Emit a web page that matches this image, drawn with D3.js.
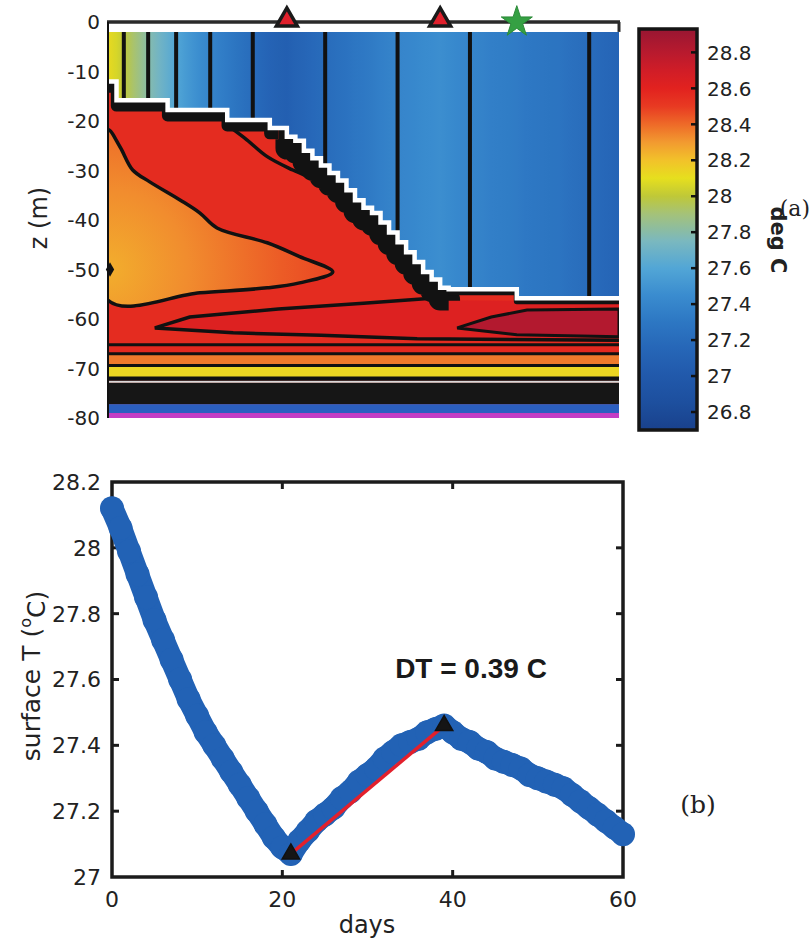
<!DOCTYPE html>
<html><head><meta charset="utf-8">
<script src="https://cdn.jsdelivr.net/npm/d3@7"></script>
<style>body{margin:0;background:#fff}</style>
</head><body><svg id="c" width="811" height="941"></svg>
<script>
// ---------------- DATA ----------------
const days = d3.range(0, 61);
const sst = [28.12,28.06,27.99,27.92,27.85,27.78,27.72,27.66,27.60,27.54,
             27.49,27.44,27.40,27.36,27.32,27.28,27.24,27.20,27.16,27.12,
             27.09,27.07,27.11,27.14,27.17,27.19,27.21,27.24,27.26,27.29,
             27.31,27.33,27.36,27.38,27.40,27.41,27.42,27.44,27.45,27.46,
             27.44,27.42,27.41,27.39,27.38,27.36,27.35,27.34,27.33,27.31,
             27.30,27.29,27.28,27.27,27.25,27.23,27.21,27.19,27.17,27.15,27.13];
const mld = [-12,-15.8,-15.8,-15.8,-15.8,-15.8,-15.8,-17.8,-17.8,-17.8,
             -17.8,-17.8,-17.8,-17.8,-19.8,-19.8,-19.8,-19.8,-19.8,-21.4,
             -21.4,-23.2,-24,-26,-27.5,-29,-30.5,-32,-34,-36,
             -37.5,-38.6,-40.5,-42.5,-44.5,-46.5,-48.5,-50.5,-52,-53.7,
             -54,-54,-54,-54,-54,-54,-54,-54,-55.8,-55.8,
             -55.8,-55.8,-55.8,-55.8,-55.8,-55.8,-55.8,-55.8,-55.8,-55.8,-55.8];
const zTicks = [0,-10,-20,-30,-40,-50,-60,-70,-80];
const cbTicks = [26.8,27,27.2,27.4,27.6,27.8,28,28.2,28.4,28.6,28.8];
const tTicks = [27,27.2,27.4,27.6,27.8,28,28.2];
const dayTicks = [0,20,40,60];
const mlContourLevels = [28.0,27.8,27.6,27.4,27.2];
const dtDays = [21,39];
const dtTemps = [27.07,27.46];
const starDay = 48;
const markDepth = -50;
// subsurface contour geometry in (day, z)
const wedge = [[0,-21.8],[1.4,-25.2],[2.9,-29.9],[4.9,-32.3],[8.5,-36],[10.8,-38.6],[12.8,-41.6],
               [18.7,-44.6],[22.5,-47.4],[26.4,-50.5],[22.5,-52.7],[18.7,-53.7],[10.8,-54.7],[0,-56.2]];
const contourB = [[14.3,-21.2],[16.3,-23.8],[18.7,-27.2],[21.7,-29.9],[25.7,-32.9],[28,-35.3]];
const zContour = [[38,-55.8],[30,-56.8],[20,-58.0],[9.6,-59.6],[5.5,-61.8],[14.7,-62.8],[25,-63.3],[36.3,-64.0],[60,-64.3]];
const darkWedge = [[41,-61.8],[45,-59.6],[49.2,-58.2],[60,-58.0],[60,-63.6],[48,-63.2]];
const bandTop = [-65.2,-67.0,-69.4,-71.9,-72.5,-72.9,-77.2,-79.0];
const bandBot = [-67.0,-69.4,-71.9,-72.5,-72.9,-77.2,-79.0,-80];
const bandColor = ["#e3291f","#ef7a2b","#ecd622","#141414","#d8d8d8","#161616","#2b5fc0","#c33ec6"];
const bandLines = [-65.2,-67.0,-69.4,-71.9];
// thickness (m) of the sharp thermocline layer under the mixed layer, by period
const gradStart = [0,20,40];
const gradEnd = [20,40,60];
const gradThick = [2.3,4.6,1.2];
// colormap
const cmapT = [26.70,26.85,27.00,27.15,27.30,27.45,27.60,27.75,27.90,28.00,28.10,28.20,28.30,28.40,28.50,28.60,28.70,28.80,28.93];
const cmapC = ["#19418c","#1d4f9e","#2159ab","#2666b7","#2d77c3","#3a8ccf","#52a6d6","#7ab8bf","#a4c27a","#bfc838","#e6df1e","#f2c22a","#f29a30","#ee6a28","#e83a22","#e2221f","#d01d27","#b81a2e","#981632"];

// ---------------- SETUP ----------------
const svg = d3.select("#c");
const defs = svg.append("defs");
const SANS = "'DejaVu Sans', 'Liberation Sans', sans-serif";
const SERIF = "'DejaVu Serif', 'Liberation Serif', serif";
const cmap = d3.scaleLinear().domain(cmapT).range(cmapC).clamp(true);

const xTop = d3.scaleLinear([0,60],[108,619]);
const zS = d3.scaleLinear([0,-80],[22,418]);
const cbS = d3.scaleLinear([26.7,28.93],[430,29]);
const xB = d3.scaleLinear([0,60],[112,623]);
const yB = d3.scaleLinear([27,28.2],[877,482]);

const ml = days.map((d,i)=>({day:d, z:mld[i], T:sst[i]}));

// ---------------- TOP PANEL ----------------
defs.append("clipPath").attr("id","clipTop").append("rect")
  .attr("x",xTop(0)).attr("y",zS(-2)).attr("width",xTop(60)-xTop(0)).attr("height",zS(-80)-zS(-2));
const gT = svg.append("g").attr("clip-path","url(#clipTop)");

// subsurface background
gT.append("rect").attr("x",xTop(0)).attr("y",zS(-2)).attr("width",xTop(60)-xTop(0))
  .attr("height",zS(-80)-zS(-2)).attr("fill",cmap(28.56));

const lineXZ = d3.line().x(d=>xTop(d[0])).y(d=>zS(d[1]));

// Z interior (slightly warmer)
const zPoly = zContour.concat([[60,-56.5],[40,-56.2]]);
gT.append("path").attr("d",lineXZ.curve(d3.curveLinearClosed)(zPoly)).attr("fill",cmap(28.63));
// dark wedge
gT.append("path").attr("d",lineXZ.curve(d3.curveLinearClosed)(darkWedge)).attr("fill",cmap(28.82))
  .attr("stroke","#111").attr("stroke-width",3);

// orange wedge with radial gradient
const rg = defs.append("radialGradient").attr("id","wedgeG").attr("gradientUnits","userSpaceOnUse")
  .attr("cx",xTop(0)).attr("cy",zS(-50)).attr("r",230);
rg.append("stop").attr("offset","0%").attr("stop-color",cmap(28.25));
rg.append("stop").attr("offset","35%").attr("stop-color",cmap(28.33));
rg.append("stop").attr("offset","75%").attr("stop-color",cmap(28.43));
rg.append("stop").attr("offset","100%").attr("stop-color",cmap(28.48));
gT.append("path").attr("d",lineXZ.curve(d3.curveCatmullRomClosed)(wedge)).attr("fill","url(#wedgeG)")
  .attr("stroke","#111").attr("stroke-width",3.5);

// Z contour line and contour B
gT.append("path").attr("d",lineXZ.curve(d3.curveLinear)(zContour)).attr("fill","none").attr("stroke","#111").attr("stroke-width",3.5);
gT.append("path").attr("d",lineXZ.curve(d3.curveCatmullRom)(contourB)).attr("fill","none").attr("stroke","#111").attr("stroke-width",3.5);

// deep horizontal bands
gT.selectAll("rect.band").data(bandTop).join("rect").attr("class","band")
  .attr("x",xTop(0)).attr("width",xTop(60)-xTop(0))
  .attr("y",d=>zS(d)).attr("height",(d,i)=>zS(bandBot[i])-zS(d))
  .attr("fill",(d,i)=>bandColor[i]);
gT.selectAll("line.bl").data(bandLines).join("line").attr("class","bl")
  .attr("x1",xTop(0)).attr("x2",xTop(60)).attr("y1",d=>zS(d)).attr("y2",d=>zS(d))
  .attr("stroke","#111").attr("stroke-width",3);

// sharp thermocline layer under mixed layer (dense contours) - stroked staircase
gradStart.forEach((s,k)=>{
  const seg = ml.filter(d=>d.day>=s && d.day<=gradEnd[k]);
  const t = gradThick[k];
  gT.append("path").datum(seg)
    .attr("d",d3.line().curve(d3.curveStepAfter).x(d=>xTop(d.day)).y(d=>zS(d.z - t/2)))
    .attr("fill","none").attr("stroke","#121212")
    .attr("stroke-width",zS(-t)-zS(0)).attr("stroke-linejoin","round");
});

// mixed layer coloured by surface temperature
const mlg = defs.append("linearGradient").attr("id","mlG").attr("gradientUnits","userSpaceOnUse")
  .attr("x1",xTop(0)).attr("x2",xTop(60)).attr("y1",0).attr("y2",0);
ml.forEach(d=>mlg.append("stop").attr("offset",d.day/60).attr("stop-color",cmap(d.T)));
gT.append("path").datum(ml)
  .attr("d",d3.area().curve(d3.curveStepAfter).x(d=>xTop(d.day)).y0(zS(-2)).y1(d=>zS(d.z)))
  .attr("fill","url(#mlG)");

// vertical contour lines inside mixed layer
const crossings = [];
mlContourLevels.forEach(L=>{
  for(let i=0;i<sst.length-1;i++){
    const a=sst[i], b=sst[i+1];
    if((a-L)*(b-L)<0 || a===L){
      const f=(L-a)/(b-a);
      crossings.push({day:days[i]+f, z:mld[i]});
    }
  }
});
gT.selectAll("line.mlc").data(crossings).join("line").attr("class","mlc")
  .attr("x1",d=>xTop(d.day)).attr("x2",d=>xTop(d.day))
  .attr("y1",zS(-2)).attr("y2",d=>zS(d.z)+2)
  .attr("stroke","#111").attr("stroke-width",4);

// white mixed-layer base line
gT.append("path").datum(ml)
  .attr("d",d3.line().curve(d3.curveStepAfter).x(d=>xTop(d.day)).y(d=>zS(d.z)))
  .attr("fill","none").attr("stroke","#fff").attr("stroke-width",4.5);

// frame of top panel
svg.append("line").attr("x1",xTop(0)-1).attr("x2",xTop(60)+1).attr("y1",zS(0)).attr("y2",zS(0))
  .attr("stroke","#2a2a2a").attr("stroke-width",3.5);
svg.append("line").attr("x1",xTop(60)).attr("x2",xTop(60)).attr("y1",zS(0)).attr("y2",zS(-2))
  .attr("stroke","#2a2a2a").attr("stroke-width",3);
svg.append("line").attr("x1",xTop(0)).attr("x2",xTop(0)).attr("y1",zS(0)).attr("y2",zS(-80))
  .attr("stroke","#111").attr("stroke-width",2);

// markers on top
svg.selectAll("path.tri").data(dtDays).join("path").attr("class","tri")
  .attr("transform",d=>`translate(${xTop(d)},${zS(0)-2})`)
  .attr("d",d3.symbol(d3.symbolTriangle,190)())
  .attr("fill","#e0202c").attr("stroke","#1a1a1a").attr("stroke-width",3.5);
svg.append("path").attr("transform",`translate(${xTop(starDay)},${zS(0)})`)
  .attr("d",d3.symbol(d3.symbolStar,300)()).attr("fill","#35a043").attr("stroke","#2b8a38").attr("stroke-width",1);
svg.append("path").attr("transform",`translate(${xTop(0)+2},${zS(markDepth)})`)
  .attr("d",d3.symbol(d3.symbolDiamond,60)()).attr("fill","#111");

// z ticks
svg.selectAll("text.zt").data(zTicks).join("text").attr("class","zt")
  .attr("x",100).attr("y",d=>zS(d)).attr("dy","0.36em").attr("text-anchor","end")
  .attr("font-family",SANS).attr("font-size",20).attr("fill","#222").text(d=>String(d));
svg.append("text").attr("transform",`translate(38,218) rotate(-90)`).attr("text-anchor","middle")
  .attr("dy","0.36em").attr("font-family",SANS).attr("font-size",24).attr("fill","#222").text("z (m)");

// ---------------- COLORBAR ----------------
const cbg = defs.append("linearGradient").attr("id","cbG").attr("gradientUnits","userSpaceOnUse")
  .attr("x1",0).attr("x2",0).attr("y1",cbS(26.7)).attr("y2",cbS(28.93));
cmapT.forEach((t,i)=>cbg.append("stop").attr("offset",(t-26.7)/(28.93-26.7)).attr("stop-color",cmapC[i]));
svg.append("rect").attr("x",639).attr("y",cbS(28.93)).attr("width",58).attr("height",cbS(26.7)-cbS(28.93))
  .attr("fill","url(#cbG)").attr("stroke","#151515").attr("stroke-width",3.5);
svg.selectAll("line.cbt").data(cbTicks).join("line").attr("class","cbt")
  .attr("x1",691).attr("x2",697).attr("y1",d=>cbS(d)).attr("y2",d=>cbS(d)).attr("stroke","#111").attr("stroke-width",2.5);
svg.selectAll("text.cbl").data(cbTicks).join("text").attr("class","cbl")
  .attr("x",707).attr("y",d=>cbS(d)).attr("dy","0.36em")
  .attr("font-family",SANS).attr("font-size",20).attr("fill","#222").text(d=>String(d));
svg.append("text").attr("x",810).attr("y",216).attr("text-anchor","end")
  .attr("font-family",SERIF).attr("font-size",22).attr("fill","#222").text("(a)");
svg.append("text").attr("transform","translate(779,240) rotate(90)").attr("text-anchor","middle").attr("dy","0.36em")
  .attr("font-family",SANS).attr("font-weight","bold").attr("font-size",21).attr("fill","#222").text("deg C");

// ---------------- BOTTOM PANEL ----------------
svg.append("rect").attr("x",xB(0)).attr("y",yB(28.2)).attr("width",xB(60)-xB(0)).attr("height",yB(27)-yB(28.2))
  .attr("fill","none").attr("stroke","#1b1b1b").attr("stroke-width",3.5);
const innerX = dayTicks.filter(d=>d>0&&d<60), innerY = tTicks.filter(d=>d>27&&d<28.2);
svg.selectAll("line.xtb").data(innerX).join("line").attr("class","xtb")
  .attr("x1",d=>xB(d)).attr("x2",d=>xB(d)).attr("y1",yB(27)).attr("y2",yB(27)-7).attr("stroke","#1b1b1b").attr("stroke-width",3);
svg.selectAll("line.xtt").data(innerX).join("line").attr("class","xtt")
  .attr("x1",d=>xB(d)).attr("x2",d=>xB(d)).attr("y1",yB(28.2)).attr("y2",yB(28.2)+7).attr("stroke","#1b1b1b").attr("stroke-width",3);
svg.selectAll("line.ytl").data(innerY).join("line").attr("class","ytl")
  .attr("x1",xB(0)).attr("x2",xB(0)+7).attr("y1",d=>yB(d)).attr("y2",d=>yB(d)).attr("stroke","#1b1b1b").attr("stroke-width",3);
svg.selectAll("line.ytr").data(innerY).join("line").attr("class","ytr")
  .attr("x1",xB(60)).attr("x2",xB(60)-7).attr("y1",d=>yB(d)).attr("y2",d=>yB(d)).attr("stroke","#1b1b1b").attr("stroke-width",3);
svg.selectAll("text.xl").data(dayTicks).join("text").attr("class","xl")
  .attr("x",d=>xB(d)).attr("y",899).attr("dy","0.36em").attr("text-anchor","middle")
  .attr("font-family",SANS).attr("font-size",22).attr("fill","#222").text(d=>String(d));
svg.selectAll("text.yl").data(tTicks).join("text").attr("class","yl")
  .attr("x",101).attr("y",d=>yB(d)).attr("dy","0.36em").attr("text-anchor","end")
  .attr("font-family",SANS).attr("font-size",22).attr("fill","#222").text(d=>String(+d.toFixed(1)));
svg.append("text").attr("x",367).attr("y",933).attr("text-anchor","middle")
  .attr("font-family",SANS).attr("font-size",24).attr("fill","#222").text("days");
const yt = svg.append("text").attr("transform","translate(31,676) rotate(-90)").attr("text-anchor","middle").attr("dy","0.36em")
  .attr("font-family",SANS).attr("font-size",25).attr("fill","#222");
yt.append("tspan").text("surface T (");
yt.append("tspan").attr("font-size",16).attr("dy","-0.55em").text("o");
yt.append("tspan").attr("dy","0.55em").text("C)");

// series
const pts = days.map((d,i)=>({day:d,T:sst[i]}));
const blue = "#2262b5";
svg.append("path").datum(pts).attr("d",d3.line().x(d=>xB(d.day)).y(d=>yB(d.T)))
  .attr("fill","none").attr("stroke",blue).attr("stroke-width",23).attr("stroke-linejoin","round").attr("stroke-linecap","round");
svg.selectAll("circle.pt").data(pts).join("circle").attr("class","pt")
  .attr("cx",d=>xB(d.day)).attr("cy",d=>yB(d.T)).attr("r",12).attr("fill",blue);

// DT segment
const dt = dtDays.map((d,i)=>({day:d,T:dtTemps[i]}));
svg.append("path").datum(dt).attr("d",d3.line().x(d=>xB(d.day)).y(d=>yB(d.T)))
  .attr("stroke","#e3202c").attr("stroke-width",3.5).attr("fill","none");
svg.selectAll("path.dtm").data(dt).join("path").attr("class","dtm")
  .attr("transform",d=>`translate(${xB(d.day)},${yB(d.T)})`)
  .attr("d",d3.symbol(d3.symbolTriangle,130)()).attr("fill","#151515").attr("stroke","#111").attr("stroke-width",1.5);

svg.append("text").attr("x",471).attr("y",668).attr("dy","0.36em").attr("text-anchor","middle")
  .attr("font-family","'Liberation Sans', Arial, sans-serif").attr("font-weight","bold").attr("font-size",28).attr("fill","#1a1a1a")
  .text("DT = " + (dtTemps[1]-dtTemps[0]).toFixed(2) + " C");
svg.append("text").attr("x",698).attr("y",804).attr("dy","0.36em").attr("text-anchor","middle")
  .attr("font-family",SERIF).attr("font-size",25).attr("fill","#222").text("(b)");
</script></body></html>
